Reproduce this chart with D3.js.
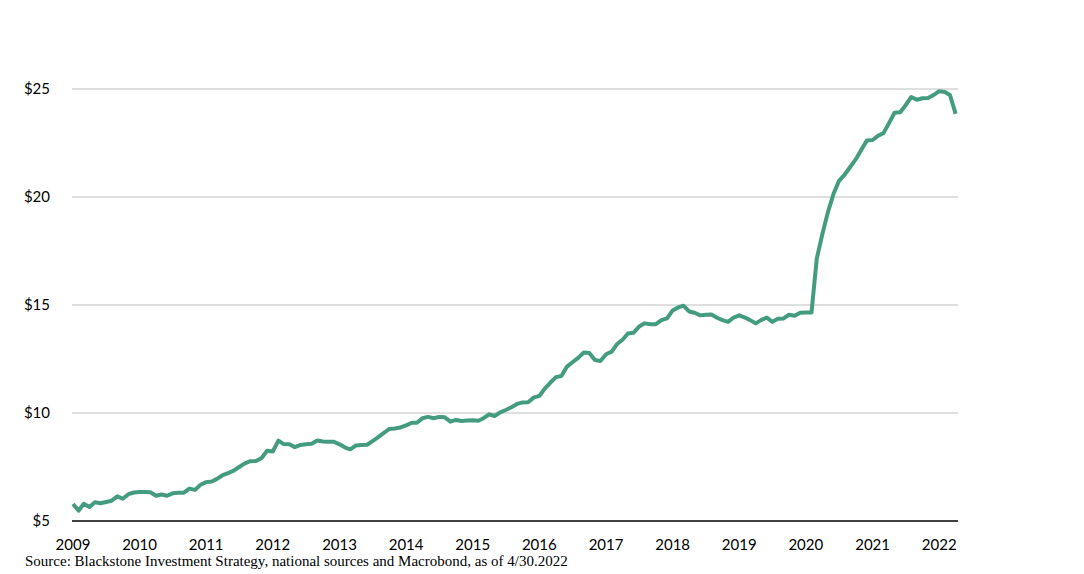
<!DOCTYPE html>
<html>
<head>
<meta charset="utf-8">
<script src="https://cdn.jsdelivr.net/npm/d3@7"></script>
<style>
  body { margin: 0; background: #fff; }
  svg { display: block; }
</style>
</head>
<body>
<svg width="1084" height="574"></svg>
<script>
// monthly values, Jan 2009 .. Apr 2022
const firstMonth = new Date(2009, 0, 1);
const prices = [
  5.79, 5.48, 5.80, 5.65, 5.87, 5.82, 5.88, 5.94, 6.14, 6.03, 6.24, 6.32,
  6.34, 6.34, 6.33, 6.17, 6.23, 6.17, 6.28, 6.31, 6.31, 6.50, 6.44, 6.68,
  6.80, 6.83, 6.95, 7.12, 7.22, 7.33, 7.50, 7.67, 7.77, 7.78, 7.92, 8.25,
  8.22, 8.72, 8.56, 8.55, 8.42, 8.52, 8.55, 8.58, 8.73, 8.68, 8.67, 8.67,
  8.55, 8.40, 8.32, 8.50, 8.52, 8.53, 8.70, 8.88, 9.08, 9.26, 9.28, 9.33,
  9.43, 9.55, 9.55, 9.76, 9.82, 9.76, 9.82, 9.80, 9.60, 9.68, 9.63, 9.65,
  9.66, 9.64, 9.76, 9.94, 9.86, 10.03, 10.14, 10.27, 10.42, 10.49, 10.50, 10.71,
  10.79, 11.14, 11.40, 11.66, 11.71, 12.15, 12.35, 12.55, 12.80, 12.78, 12.45, 12.41,
  12.72, 12.84, 13.18, 13.39, 13.68, 13.72, 14.00, 14.15, 14.11, 14.11, 14.30, 14.38,
  14.75, 14.89, 14.97, 14.70, 14.64, 14.52, 14.55, 14.56, 14.41, 14.30, 14.22, 14.42,
  14.52, 14.42, 14.30, 14.15, 14.30, 14.42, 14.22, 14.36, 14.38, 14.55, 14.50, 14.64,
  14.65, 14.65, 17.15, 18.30, 19.30, 20.15, 20.75, 21.04, 21.40, 21.75, 22.20, 22.62,
  22.64, 22.84, 22.95, 23.42, 23.90, 23.92, 24.25, 24.63, 24.50, 24.57, 24.58, 24.72,
  24.90, 24.86, 24.72, 23.85
];
const yTicks = [5, 10, 15, 20, 25];
const xYears = [2009, 2010, 2011, 2012, 2013, 2014, 2015, 2016, 2017, 2018, 2019, 2020, 2021, 2022];
const sourceNote = "Source: Blackstone Investment Strategy, national sources and Macrobond, as of 4/30.2022";

const data = prices.map((v, i) => ({
  date: new Date(firstMonth.getFullYear(), firstMonth.getMonth() + i, 1),
  value: v
}));

const svg = d3.select("svg");
const left = 72, right = 958;

const x = d3.scaleTime()
    .domain([new Date(2009, 0, 1), new Date(2022, 0, 1)])
    .range([73, 939.2]);
const y = d3.scaleLinear().domain([5, 25]).range([521, 89]);

// gridlines
svg.append("g")
  .selectAll("line")
  .data(yTicks.filter(d => d !== 5))
  .enter().append("line")
    .attr("x1", left).attr("x2", right)
    .attr("y1", d => y(d)).attr("y2", d => y(d))
    .style("stroke", "#d4d4d4")
    .style("stroke-width", 1.3);

// y labels
svg.append("g")
  .selectAll("text")
  .data(yTicks)
  .enter().append("text")
    .attr("x", 50)
    .attr("y", d => y(d))
    .attr("dy", "0.35em")
    .style("text-anchor", "end")
    .style("font-family", "Lato, 'Open Sans', sans-serif")
    .style("font-size", "15px")
    .style("fill", "#000")
    .text(d => "$" + d);

// the line
const line = d3.line()
    .x(d => x(d.date))
    .y(d => y(d.value));

svg.append("path")
    .datum(data)
    .attr("d", line)
    .style("fill", "none")
    .style("stroke", "#449c80")
    .style("stroke-width", 4)
    .style("stroke-linejoin", "round");

// baseline
svg.append("line")
    .attr("x1", left).attr("x2", right)
    .attr("y1", y(5)).attr("y2", y(5))
    .style("stroke", "#000")
    .style("stroke-width", 1.5);

// x labels
svg.append("g")
  .selectAll("text")
  .data(xYears)
  .enter().append("text")
    .attr("x", d => x(new Date(d, 0, 1)))
    .attr("y", 550)
    .style("text-anchor", "middle")
    .style("font-family", "Lato, 'Open Sans', sans-serif")
    .style("font-size", "15px")
    .style("fill", "#000")
    .text(d => d);

svg.append("text")
    .attr("x", 25)
    .attr("y", 566)
    .style("font-family", "'Liberation Serif', 'Times New Roman', serif")
    .style("font-size", "15px")
    .style("fill", "#000")
    .text(sourceNote);
</script>
</body>
</html>
